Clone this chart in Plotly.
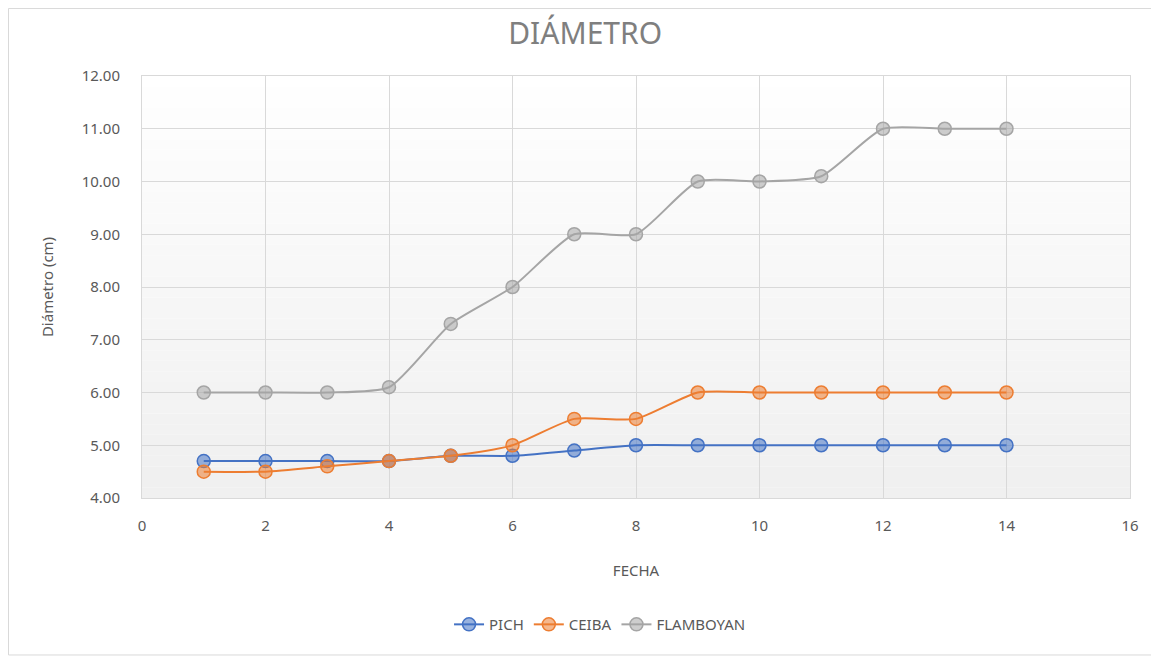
import plotly.graph_objects as go

fecha = list(range(1, 15))
pich = [4.7, 4.7, 4.7, 4.7, 4.8, 4.8, 4.9, 5.0, 5.0, 5.0, 5.0, 5.0, 5.0, 5.0]
ceiba = [4.5, 4.5, 4.6, 4.7, 4.8, 5.0, 5.5, 5.5, 6.0, 6.0, 6.0, 6.0, 6.0, 6.0]
flamboyan = [6.0, 6.0, 6.0, 6.1, 7.3, 8.0, 9.0, 9.0, 10.0, 10.0, 10.1, 11.0, 11.0, 11.0]

FONT = 'Noto Sans'
TXT = '#595959'
GRID = '#d9d9d9'

series = [
    ('PICH', pich, '#4472C4', 'rgba(68,114,196,0.55)'),
    ('CEIBA', ceiba, '#ED7D31', 'rgba(237,125,49,0.55)'),
    ('FLAMBOYAN', flamboyan, '#A5A5A5', 'rgba(165,165,165,0.55)'),
]

fig = go.Figure()
for name, vals, col, fill in series:
    fig.add_trace(go.Scatter(
        x=fecha, y=vals, name=name, mode='lines+markers',
        line=dict(color=col, width=2, shape='spline', smoothing=0.6),
        marker=dict(size=13, color=fill, line=dict(color=col, width=1.5)),
    ))

# gradient plot background (white -> light gray), drawn as thin bands
shapes = []
n = 40
for i in range(n):
    g = int(255 - (255 - 240) * (1 - i / (n - 1)))
    shapes.append(dict(type='rect', xref='paper', yref='paper',
                       x0=0, x1=1, y0=i / n, y1=(i + 1) / n,
                       fillcolor=f'rgb({g},{g},{g})', line=dict(width=0), layer='below'))
# outer chart border
shapes.append(dict(type='rect', xref='paper', yref='paper',
                   x0=-0.1351, x1=1.0233, y0=-0.372, y1=1.16,
                   line=dict(color='#d9d9d9', width=1), fillcolor='rgba(0,0,0,0)'))

fig.update_layout(
    width=1159, height=660,
    paper_bgcolor='white', plot_bgcolor='rgba(0,0,0,0)',
    font=dict(family=FONT, color=TXT, size=15),
    title=dict(text='DIÁMETRO', x=0.498, xanchor='center', y=0.962, yanchor='middle',
               font=dict(size=30, color='#7f7f7f', family=FONT)),
    margin=dict(l=134, r=37, t=68, b=170),
    shapes=shapes,
    showlegend=True,
    legend=dict(orientation='h', x=0.4636, xanchor='center', y=-0.30, yanchor='middle',
                font=dict(size=15, color=TXT), bgcolor='rgba(0,0,0,0)'),
    xaxis=dict(range=[0, 16], dtick=2, tick0=0, showgrid=True, gridcolor=GRID,
               zeroline=False, showline=True, linecolor=GRID, mirror=True,
               ticks='outside', ticklen=14, tickcolor='rgba(0,0,0,0)',
               tickfont=dict(size=15, color=TXT),
               title=dict(text='FECHA', font=dict(size=15, color=TXT), standoff=31)),
    yaxis=dict(range=[4, 12], dtick=1, tickformat='.2f', showgrid=True, gridcolor=GRID,
               zeroline=False, showline=True, linecolor=GRID, mirror=True,
               ticks='outside', ticklen=18, tickcolor='rgba(0,0,0,0)',
               tickfont=dict(size=15, color=TXT),
               title=dict(text='Diámetro (cm)', font=dict(size=15, color=TXT), standoff=24)),
)

fig.write_html('out.html')
